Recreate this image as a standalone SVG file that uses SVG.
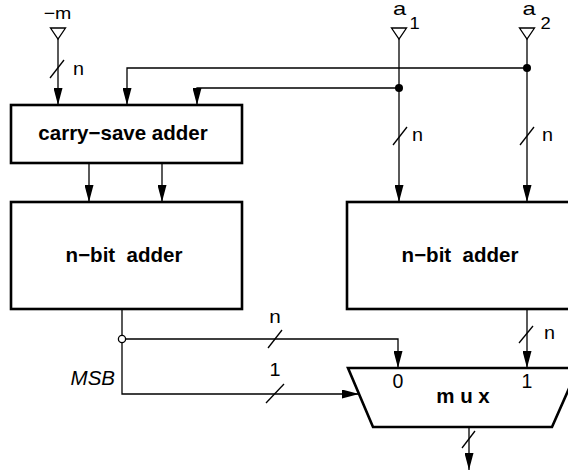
<svg xmlns="http://www.w3.org/2000/svg" width="568" height="472" viewBox="0 0 568 472">
<defs>
<style>
.w{fill:none;stroke:#000;stroke-width:1.3}
.a{marker-end:url(#ah)}
.box{fill:#fff;stroke:#000;stroke-width:2.6}
.tri{fill:#fff;stroke:#000;stroke-width:1.3}
.bl{font-family:"Liberation Sans",Arial,sans-serif;font-weight:bold;font-size:20.5px;text-anchor:middle;fill:#000}
.lb{font-family:"Liberation Sans",Arial,sans-serif;fill:#000}
.dot{fill:#000}
</style>
<marker id="ah" markerUnits="userSpaceOnUse" markerWidth="17" markerHeight="9" refX="17" refY="4.5" orient="auto">
<path d="M0,0 L17,4.5 L0,9 z" fill="#000"/>
</marker>
</defs>
<rect width="568" height="472" fill="#fff"/>

<g id="connectors">
<line class="w a" x1="58" y1="39" x2="58" y2="105"/>
<line class="w" x1="50" y1="78" x2="64" y2="60"/>
<line class="w a" x1="399" y1="39" x2="399" y2="202"/>
<line class="w" x1="393" y1="145" x2="407" y2="127"/>
<line class="w a" x1="527" y1="39" x2="527" y2="202"/>
<line class="w" x1="520" y1="145" x2="534" y2="127"/>
<polyline class="w a" points="527,68 127,68 127,105"/>
<polyline class="w a" points="399,88 197,88 197,105"/>
<circle class="dot" cx="527" cy="68" r="4"/>
<circle class="dot" cx="399" cy="88" r="4"/>
<line class="w a" x1="89" y1="163" x2="89" y2="202"/>
<line class="w a" x1="162" y1="163" x2="162" y2="202"/>
<polyline class="w a" points="122,309 122,394 359,394"/>
<line class="w" x1="266" y1="403" x2="284" y2="384"/>
<polyline class="w a" points="125.5,339 398,339 398,368"/>
<line class="w" x1="268" y1="348" x2="282" y2="330"/>
<circle cx="122" cy="339" r="3.6" fill="#fff" stroke="#000" stroke-width="1.3"/>
<line class="w a" x1="527" y1="309" x2="527" y2="368"/>
<line class="w" x1="519" y1="343" x2="533" y2="326"/>
<line class="w a" x1="469" y1="427" x2="469" y2="470"/>
<line class="w" x1="462" y1="448" x2="475" y2="431"/>
</g>

<g id="in-m">
<polygon class="tri" points="50.5,28 65.5,28 58,39"/>
<text class="lb" font-size="17" text-anchor="middle" transform="translate(57.5,19) scale(1.15,1)">−m</text>
<text class="lb" font-size="18" transform="translate(73,75) scale(1.1,1)">n</text>
</g>
<g id="in-a1">
<polygon class="tri" points="391.5,28 406.5,28 399,39"/>
<text class="lb" font-size="19" text-anchor="middle" transform="translate(399.5,15) scale(1.25,1)">a</text>
<text class="lb" font-size="16" transform="translate(409.5,29) scale(1.15,1)">1</text>
<text class="lb" font-size="18" transform="translate(412,141) scale(1.1,1)">n</text>
</g>
<g id="in-a2">
<polygon class="tri" points="519.5,28 534.5,28 527,39"/>
<text class="lb" font-size="19" text-anchor="middle" transform="translate(529,15) scale(1.25,1)">a</text>
<text class="lb" font-size="16" transform="translate(540.5,29) scale(1.15,1)">2</text>
<text class="lb" font-size="18" transform="translate(542,141) scale(1.1,1)">n</text>
</g>

<g id="csa">
<rect class="box" x="11" y="105" width="231" height="58"/>
<text class="bl" x="123" y="140">carry−save adder</text>
</g>
<g id="adder-left">
<rect class="box" x="11" y="202" width="231" height="107"/>
<text class="bl" x="124" y="262">n−bit&#160; adder</text>
</g>
<g id="adder-right">
<rect class="box" x="347" y="202" width="240" height="107"/>
<text class="bl" x="460" y="262">n−bit&#160; adder</text>
</g>

<g id="labels">
<text class="lb" font-size="18" text-anchor="middle" transform="translate(275,323) scale(1.15,1)">n</text>
<text class="lb" font-size="18" text-anchor="middle" transform="translate(275,376) scale(1.1,1)">1</text>
<text class="lb" font-size="20.5" font-style="italic" text-anchor="end" x="115" y="385">MSB</text>
<text class="lb" font-size="18" transform="translate(544,339) scale(1.1,1)">n</text>
</g>

<g id="mux">
<polygon class="box" points="348,368 578,368 552,427 373,427"/>
<text class="lb" font-size="19.5" text-anchor="middle" x="398" y="388">0</text>
<text class="lb" font-size="19.5" text-anchor="middle" x="527" y="388">1</text>
<text class="bl" font-size="20" x="463" y="403">m u x</text>
</g>
</svg>
